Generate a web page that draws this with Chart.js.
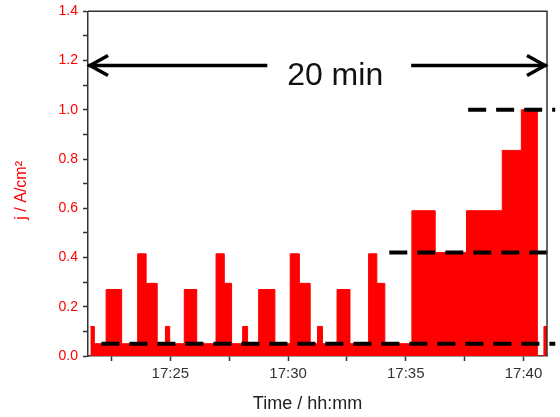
<!DOCTYPE html>
<html>
<head>
<meta charset="utf-8">
<script src="https://cdn.jsdelivr.net/npm/chart.js"></script>
<style>
  body { margin: 0; background: #fff; }
  #wrap { width: 560px; height: 417px; }
</style>
</head>
<body>
<div id="wrap"><canvas id="chart" width="560" height="417"></canvas></div>
<script>
// time in minutes after 17:00 where each step starts, and its current density
const stepTimes = [21.60, 21.77, 22.27, 22.93, 23.61, 23.97, 24.44, 24.79, 24.97, 25.59,
  26.12, 26.94, 27.29, 27.60, 28.07, 28.28, 28.75, 29.44, 30.09, 30.48,
  30.94, 31.25, 31.46, 32.08, 32.63, 33.42, 33.77, 34.11, 35.26, 36.25,
  37.58, 39.10, 39.91, 40.59, 40.87, 41.00];
const currentDensity = [0.12, 0.05, 0.27, 0.05, 0.415, 0.295, 0.05, 0.12, 0.05, 0.27,
  0.05, 0.415, 0.295, 0.05, 0.12, 0.05, 0.27, 0.05, 0.415, 0.295,
  0.05, 0.12, 0.05, 0.27, 0.05, 0.415, 0.295, 0.05, 0.59, 0.42,
  0.59, 0.835, 1.0, 0, 0.12, 0.12];

// dashed reference levels and where they begin / end
const levelValues = [0.05, 0.42, 1.0];
const levelStarts = [22.07, 34.30, 37.65];
const levelEnd = 41.35;

// axis ticks
const xTickValues = [22.5, 25, 27.5, 30, 32.5, 35, 37.5, 40];
const xTickLabels = { 25: '17:25', 30: '17:30', 35: '17:35', 40: '17:40' };
const yTickValues = [0, 0.1, 0.2, 0.3, 0.4, 0.5, 0.6, 0.7, 0.8, 0.9, 1.0, 1.1, 1.2, 1.3, 1.4];
const yTickLabels = ['0.0', '', '0.2', '', '0.4', '', '0.6', '', '0.8', '', '1.0', '', '1.2', '', '1.4'];

// the "20 min" span annotation
const spanLabel = '20 min';
const spanY = 1.18;
const spanGap = [29.12, 35.23];
const spanTextX = 32.0;
const spanTextY = 1.135;

const FONT = "'Liberation Sans', Arial, sans-serif";

let stepPoints = stepTimes.map((t, i) => ({ x: t, y: currentDensity[i] }));

let datasets = levelValues.map((v, i) => ({
  data: [{ x: levelStarts[i], y: v }, { x: levelEnd, y: v }],
  borderColor: '#000',
  borderWidth: 4,
  borderDash: [18, 10],
  pointRadius: 0,
  fill: false,
  clip: false,
  order: 0
}));

datasets.push({
  data: stepPoints,
  stepped: true,
  borderColor: '#ff0000',
  borderWidth: 1,
  backgroundColor: '#ff0000',
  fill: 'origin',
  pointRadius: 0,
  order: 1
});

// frame around plot + arrow with label
const framePlugin = {
  id: 'frame',
  afterDraw(chart) {
    let ctx = chart.ctx;
    let a = chart.chartArea;
    let xs = chart.scales.x;
    let ys = chart.scales.y;
    ctx.save();
    ctx.strokeStyle = '#333';
    ctx.lineWidth = 1.5;
    ctx.beginPath();
    ctx.moveTo(a.left, a.top);
    ctx.lineTo(a.right, a.top);
    ctx.lineTo(a.right, a.bottom);
    ctx.stroke();

    // arrow
    let y = ys.getPixelForValue(spanY);
    let x0 = xs.getPixelForValue(xs.min);
    let x1 = xs.getPixelForValue(xs.max);
    let g0 = xs.getPixelForValue(spanGap[0]);
    let g1 = xs.getPixelForValue(spanGap[1]);
    ctx.strokeStyle = '#000';
    ctx.lineWidth = 3.5;
    ctx.lineCap = 'butt';
    ctx.lineJoin = 'miter';
    ctx.beginPath();
    ctx.moveTo(x0, y); ctx.lineTo(g0, y);
    ctx.moveTo(g1, y); ctx.lineTo(x1, y);
    ctx.stroke();
    ctx.beginPath();
    ctx.moveTo(x0 + 20, y - 10); ctx.lineTo(x0 + 2, y); ctx.lineTo(x0 + 20, y + 10);
    ctx.moveTo(x1 - 20, y - 10); ctx.lineTo(x1 - 2, y); ctx.lineTo(x1 - 20, y + 10);
    ctx.stroke();

    ctx.fillStyle = '#111';
    ctx.font = '32px ' + FONT;
    ctx.textAlign = 'center';
    ctx.textBaseline = 'middle';
    ctx.fillText(spanLabel, xs.getPixelForValue(spanTextX), ys.getPixelForValue(spanTextY));
    ctx.restore();
  }
};

chart = new Chart(document.getElementById('chart').getContext('2d'), {
  type: 'line',
  data: { datasets: datasets },
  options: {
    responsive: false,
    animation: false,
    layout: { padding: { top: 11, right: 13, left: 0, bottom: 0 } },
    plugins: { legend: { display: false }, tooltip: { enabled: false } },
    scales: {
      x: {
        type: 'linear',
        min: 21.5,
        max: 41.0,
        afterFit(scale) { scale.height = 61; },
        afterBuildTicks(scale) { scale.ticks = xTickValues.map(v => ({ value: v })); },
        grid: { drawOnChartArea: false, color: '#333', tickLength: 5, tickWidth: 1.5 },
        border: { color: '#333', width: 1.5 },
        ticks: {
          autoSkip: false,
          maxRotation: 0,
          padding: 4,
          color: '#333',
          font: { family: FONT, size: 15 },
          callback: v => xTickLabels[v] || ''
        },
        title: {
          display: true,
          text: 'Time / hh:mm    ',
          color: '#222',
          font: { family: FONT, size: 18 },
          padding: { top: 0, bottom: 2 }
        }
      },
      y: {
        min: 0,
        max: 1.4,
        afterFit(scale) { scale.width = 88; },
        afterBuildTicks(scale) { scale.ticks = yTickValues.map(v => ({ value: v })); },
        grid: { drawOnChartArea: false, color: '#333', tickLength: 5, tickWidth: 1.5 },
        border: { color: '#333', width: 1.5 },
        ticks: {
          autoSkip: false,
          padding: 5,
          color: '#ff0000',
          font: { family: FONT, size: 14, lineHeight: 0.9 },
          callback: (v, i) => yTickLabels[i]
        },
        title: {
          display: true,
          text: 'j / A/cm²   ',
          color: '#ff0000',
          font: { family: FONT, size: 16 },
          padding: { top: 12, bottom: 0 }
        }
      }
    }
  },
  plugins: [framePlugin]
});
</script>
</body>
</html>
